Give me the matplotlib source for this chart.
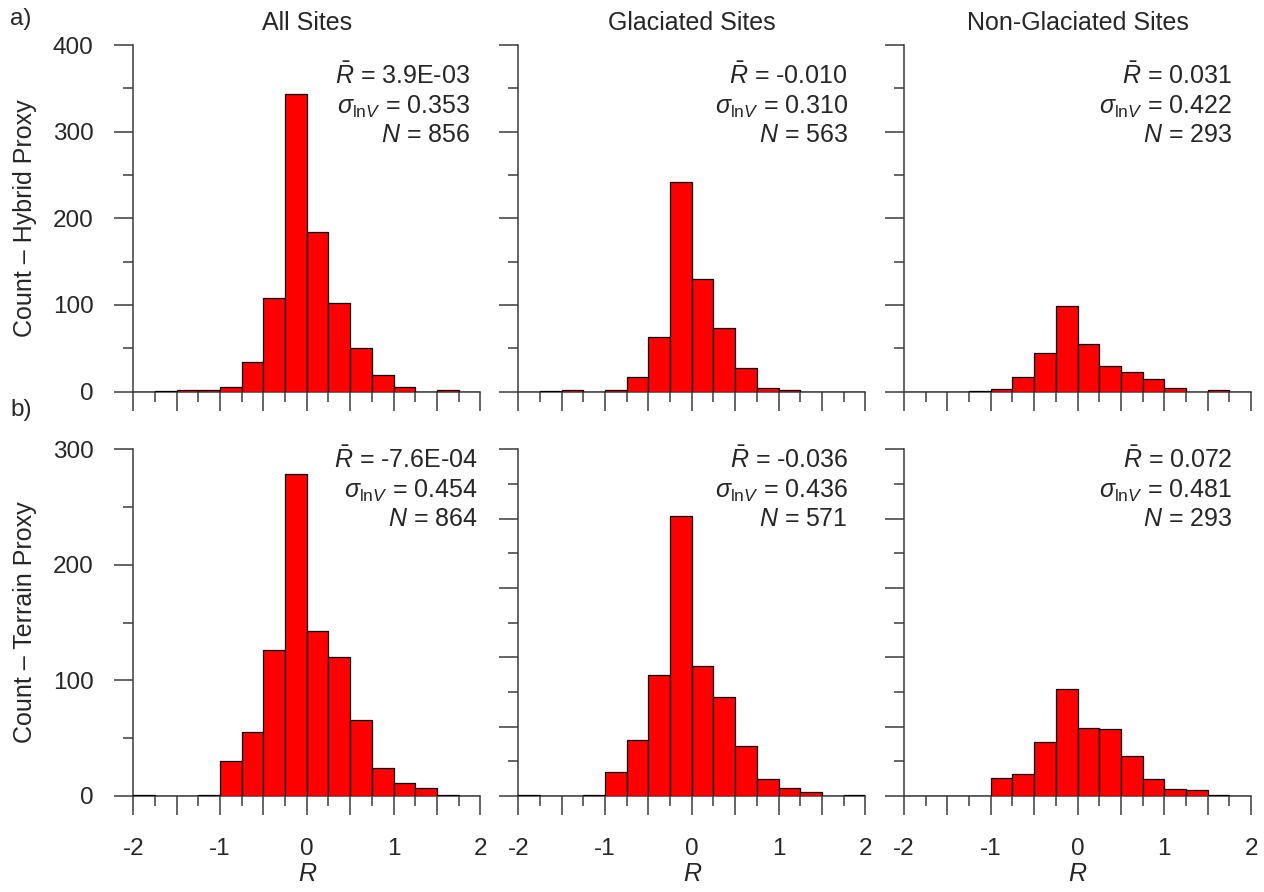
import numpy as np
import matplotlib
matplotlib.use("Agg")
import matplotlib.pyplot as plt
from matplotlib.ticker import MultipleLocator, FuncFormatter

plt.rcParams["font.family"] = ["Liberation Sans", "DejaVu Sans"]
plt.rcParams["mathtext.fontset"] = "custom"
plt.rcParams["mathtext.rm"] = "Liberation Sans"
plt.rcParams["mathtext.it"] = "Liberation Sans:italic"
plt.rcParams["mathtext.bf"] = "Liberation Sans:bold"
plt.rcParams["axes.unicode_minus"] = False

# Residual bins: width 0.25 from -2 to 2
bin_edges = np.arange(-2.0, 2.0001, 0.25)

# Counts per bin (16 bins)
hybrid_all = [0, 1, 2, 2, 5, 34, 108, 343, 184, 102, 50, 19, 5, 0, 2, 0]
hybrid_glaciated = [0, 1, 2, 0, 2, 17, 63, 242, 130, 73, 27, 4, 2, 0, 0, 0]
hybrid_nonglaciated = [0, 0, 0, 1, 3, 17, 45, 99, 55, 29, 23, 15, 4, 0, 2, 0]
terrain_all = [1, 0, 0, 1, 30, 55, 126, 279, 143, 120, 66, 24, 11, 7, 1, 0]
terrain_glaciated = [1, 0, 0, 1, 17, 40, 87, 202, 94, 71, 36, 12, 6, 3, 0, 1]
terrain_nonglaciated = [0, 0, 0, 0, 13, 16, 39, 77, 49, 48, 29, 12, 5, 4, 1, 0]

column_titles = ["All Sites", "Glaciated Sites", "Non-Glaciated Sites"]
row_labels = ["Count \u2013 Hybrid Proxy", "Count \u2013 Terrain Proxy"]
row_tags = ["a)", "b)"]

mean_residual = [["3.9E-03", "-0.010", "0.031"], ["-7.6E-04", "-0.036", "0.072"]]
sigma_lnv = [["0.353", "0.310", "0.422"], ["0.454", "0.436", "0.481"]]
n_sites = [[856, 563, 293], [864, 571, 293]]

counts = [[hybrid_all, hybrid_glaciated, hybrid_nonglaciated],
          [terrain_all, terrain_glaciated, terrain_nonglaciated]]

# y-axis ranges and tick steps (max, major, minor)
y_setup = [[(400, 100, 50), (400, 100, 50), (400, 100, 50)],
           [(300, 100, 50), (250, 50, 25), (250, 50, 25)]]

W, H = 1264, 892
fig = plt.figure(figsize=(W / 100, H / 100), dpi=100)

ink = "#262626"
axis_col = "#3a3a3a"
fs = 18

col_left = [133.3, 518.3, 904.0]
ax_w = 347.0
row_top = [45.0, 449.3]
ax_h = 346.6

# right edge of the statistics block, axes fraction
stat_right = [[0.970, 0.950, 0.945], [0.993, 0.950, 0.945]]
# baseline of first statistics line, pixels below axes top
stat_first = [39.5, 19.0]
stat_step = 29.0

def int_label(v, pos):
    if abs(v - round(v)) < 1e-9:
        return f"{int(round(v))}"
    return ""

for r in range(2):
    for c in range(3):
        left = col_left[c] / W
        bottom = 1 - (row_top[r] + ax_h) / H
        ax = fig.add_axes([left, bottom, ax_w / W, ax_h / H])
        ax.bar(bin_edges[:-1], counts[r][c], width=0.25, align="edge",
               color="#ff0000", edgecolor="black", linewidth=0.9, zorder=3)
        ymax, ymaj, ymin = y_setup[r][c]
        ax.set_xlim(-2, 2)
        ax.set_ylim(0, ymax)
        ax.xaxis.set_major_locator(MultipleLocator(0.5))
        ax.xaxis.set_minor_locator(MultipleLocator(0.25))
        ax.xaxis.set_major_formatter(FuncFormatter(int_label))
        ax.yaxis.set_major_locator(MultipleLocator(ymaj))
        ax.yaxis.set_minor_locator(MultipleLocator(ymin))
        for s in ("top", "right"):
            ax.spines[s].set_visible(False)
        for s in ("left", "bottom"):
            ax.spines[s].set_color(axis_col)
            ax.spines[s].set_linewidth(1.1)
        ax.tick_params(which="major", direction="out", length=13.5, width=1.1,
                       color=axis_col, labelsize=17.5, labelcolor=ink)
        ax.tick_params(which="minor", direction="out", length=7, width=1.1,
                       color=axis_col)
        ax.tick_params(axis="x", which="major", pad=17)
        ax.tick_params(axis="y", which="major", pad=15)
        if r == 0:
            ax.tick_params(axis="x", labelbottom=False)
            ax.set_title(column_titles[c], fontsize=fs, color=ink, pad=11)
        else:
            ax.set_xlabel("R", fontstyle="italic", fontsize=fs, color=ink,
                          labelpad=1)
        if c != 0:
            ax.tick_params(axis="y", labelleft=False)

        lines = [r"$\bar{R}$ = " + mean_residual[r][c],
                 r"$\sigma_{\mathrm{ln}V}$ = " + sigma_lnv[r][c],
                 r"$N$ = " + str(n_sites[r][c])]
        for k, txt in enumerate(lines):
            yb = 1 - (stat_first[r] + k * stat_step) / ax_h
            ax.text(stat_right[r][c], yb, txt, transform=ax.transAxes,
                    ha="right", va="baseline", fontsize=fs, color=ink)

    yc = 1 - (row_top[r] + ax_h / 2) / H
    fig.text(25 / W, yc, row_labels[r], rotation=90, ha="center", va="center",
             fontsize=fs, color=ink)

fig.text(10 / W, 1 - 19 / H, row_tags[0], ha="left", va="center",
         fontsize=17.5, color=ink)
fig.text(10 / W, 1 - 410 / H, row_tags[1], ha="left", va="center",
         fontsize=17.5, color=ink)

fig.savefig("out.png", dpi=100, facecolor="white")
